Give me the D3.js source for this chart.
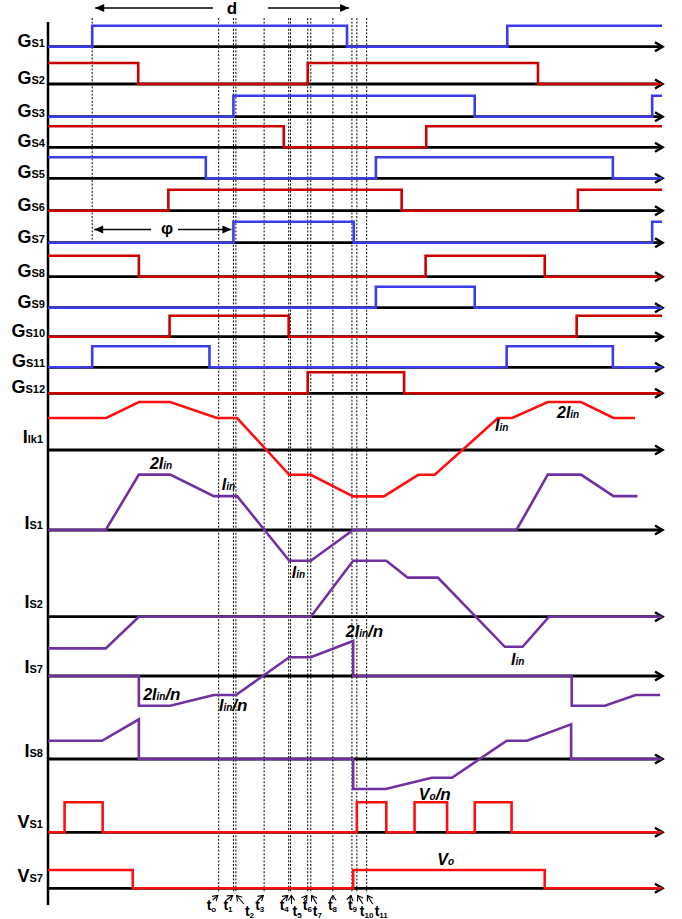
<!DOCTYPE html>
<html>
<head>
<meta charset="utf-8">
<script src="https://cdn.jsdelivr.net/npm/d3@7"></script>
<style>
body{margin:0;background:#fff}
svg{display:block;font-family:"Liberation Sans",Arial,sans-serif;font-weight:bold}
</style>
</head>
<body>
<div id="chart"></div>
<script>
// time runs 0..100 across the drawn interval, gate level 0/1, currents in schematic units
var gateNames = ["S1","S2","S3","S4","S5","S6","S7","S8","S9","S10","S11","S12"]
var gateStart = [0,1,0,1,1,0,0,1,0,0,0,0]
var gateEdges = [
    [7.2, 48.7, 74.8],
    [14.7, 42.3, 79.8],
    [30.2, 69.5, 98.4],
    [38.4, 61.6],
    [25.7, 53.4, 92.0],
    [19.6, 57.6, 86.3],
    [30.2, 49.8, 98.4],
    [14.8, 61.5, 80.9],
    [53.4, 69.5],
    [19.8, 39.2, 86.1],
    [7.2, 26.3, 74.7, 92.0],
    [42.3, 58.0]
]

var waveNames = [["I","lk1"],["I","S1"],["I","S2"],["I","S7"],["I","S8"],["V","S1"],["V","S7"]]
var iLk1 = [[0,2],[9.5,2],[14.8,3],[19.9,3],[27.5,2],[30.8,2],[39.3,-1.55],[42.8,-1.55],[49.7,-2.9],[54.7,-2.9],[60.3,-1.55],[63.0,-1.55],[73.3,2],[75.6,2],[81.4,3],[86.8,3],[92.1,2],[95.6,2]]
var iS1 = [[0,0],[9.4,0],[14.8,3.46],[19.9,3.46],[27.0,2.12],[30.8,2.12],[39.3,-1.92],[42.8,-1.92],[49.7,0],[76.3,0],[81.4,3.46],[86.8,3.46],[92.1,2.12],[96.0,2.12]]
var iS2 = [[0,-1.98],[9.4,-1.98],[14.8,0],[42.8,0],[49.7,3.5],[55.1,3.5],[58.6,2.44],[63.5,2.44],[74.4,-1.88],[77.3,-1.88],[81.6,0],[100,0]]
var iS7 = [[0,0],[14.8,0],[14.8,-1.86],[19.9,-1.86],[27.0,-1.19],[30.6,-1.19],[39.3,1.17],[42.8,1.17],[49.7,2.19],[49.7,0],[85.3,0],[85.3,-1.86],[90.7,-1.86],[95.7,-1.19],[99.7,-1.19]]
var iS8 = [[0,1.14],[8.8,1.14],[14.8,2.48],[14.8,0],[49.7,0],[49.7,-1.875],[55.0,-1.875],[62.5,-1.17],[65.8,-1.17],[74.7,1.14],[78.0,1.14],[85.2,2.17],[85.2,0],[100,0]]
var vS1Pulses = [[2.7,8.9],[50.3,55.1],[59.7,65.0],[69.5,75.5]]
var vS1Level = 1.875
var vS7Start = 1
var vS7Edges = [13.8, 49.7, 80.9]
var vS7Level = 1.14

var tNames = ["o","1","2","3","4","5","6","7","8","9","10","11"]
var tTimes = [27.8, 30.2, 30.6, 35.2, 39.2, 39.5, 42.3, 42.8, 46.4, 49.5, 50.3, 51.9]

// level labels: wave row, time, level, main text, subscript, tail
var notes = [
    [0, 72.8, 1.19, "I", "in", ""],
    [0, 82.9, 2.0, "2I", "in", ""],
    [1, 16.6, 3.81, "2I", "in", ""],
    [1, 28.3, 2.5, "I", "in", ""],
    [1, 39.7, -3.0, "I", "in", ""],
    [2, 75.4, -3.02, "I", "in", ""],
    [3, 15.5, -1.5, "2I", "in", "/n"],
    [3, 27.85, -2.19, "I", "in", "/n"],
    [3, 48.5, 2.44, "2I", "in", "/n"],
    [5, 60.4, 2.02, "V", "o", "/n"],
    [6, 63.4, 1.46, "V", "o", ""]
]

var width = 682, height = 919
var gateY = [46.7, 84, 116.7, 147.3, 178.3, 210.7, 242.7, 276.7, 307.7, 336.7, 367.3, 393.3]
var waveY = [450, 530, 616.7, 676, 759, 832.3, 888.3]
var waveLabelDy = [-7, -1, -9, -3, -2, -4, -6]
var tLabelDx = [-12, -10, 9, -9, -9, 2, -5, 2, -5, -4, 3, 8]
var tArrowDx = [-6, -7, 8, -6, -6, 1, -4, 6, 0, -2, 6, 6]
var tLow = [0, 0, 1, 0, 0, 1, 0, 1, 0, 0, 1, 1]

var blue = "#3b3bef", darkRed = "#cc0000", red = "#ff1010", purple = "#7030a0"

var x = d3.scaleLinear().domain([0,100]).range([48,662])
var gateAmp = d3.scaleLinear().domain([0,1]).range([0,-21])
var amp = d3.scaleLinear().domain([0,1]).range([0,-16])

var svg = d3.select("#chart").append("svg").attr("width", width).attr("height", height)

var defs = svg.append("defs")
defs.append("marker").attr("id","solidhead").attr("viewBox","-10 -5 10 10")
    .attr("markerUnits","userSpaceOnUse").attr("markerWidth",10).attr("markerHeight",10)
    .attr("orient","auto").append("path").attr("d","M-9,-4L0,0L-9,4Z").attr("fill","#000")
defs.append("marker").attr("id","openhead").attr("viewBox","-7 -5 8 10")
    .attr("markerUnits","userSpaceOnUse").attr("markerWidth",8).attr("markerHeight",10)
    .attr("orient","auto").append("path").attr("d","M-5,-3.2L0,0L-5,3.2")
    .attr("fill","none").attr("stroke","#000").attr("stroke-width",1.1)

function stepPoints(start, edges, hi){
    var pts = [[0, start*hi]], cur = start
    edges.forEach(function(e){
        pts.push([e, cur*hi]); cur = 1-cur; pts.push([e, cur*hi])
    })
    pts.push([100, cur*hi])
    return pts
}

// dashed time marks
svg.append("line").attr("x1", x(7.2)).attr("x2", x(7.2)).attr("y1", 18).attr("y2", gateY[6])
    .attr("stroke","#000").attr("stroke-width",1).attr("stroke-dasharray","2,1.6")
svg.selectAll(".tline").data(tTimes).enter().append("line").attr("class","tline")
    .attr("x1", function(d){ return x(d) }).attr("x2", function(d){ return x(d) })
    .attr("y1", 18).attr("y2", 893)
    .attr("stroke","#000").attr("stroke-width",1).attr("stroke-dasharray","2,1.6")

// vertical axis
svg.append("line").attr("x1",48).attr("x2",48).attr("y1",22).attr("y2",905)
    .attr("stroke","#000").attr("stroke-width",2.5)

// horizontal axes with chevrons
var allY = gateY.concat(waveY)
var axes = svg.selectAll(".hax").data(allY).enter().append("g").attr("class","hax")
axes.append("line").attr("x1",48).attr("x2",x(100)).attr("y1",function(d){return d}).attr("y2",function(d){return d})
    .attr("stroke","#000").attr("stroke-width",2.8)
axes.append("path").attr("d",function(d){ return "M"+(x(100)-7)+","+(d-4.5)+"L"+(x(100)+0.5)+","+d+"L"+(x(100)-7)+","+(d+4.5) })
    .attr("fill","none").attr("stroke","#000").attr("stroke-width",2.5)

var line = d3.line().x(function(d){ return x(d[0]) })

// gate signals
gateNames.forEach(function(n, i){
    var pts = stepPoints(gateStart[i], gateEdges[i], 1)
    svg.append("path").datum(pts)
        .attr("d", line.y(function(d){ return gateY[i] + gateAmp(d[1]) }))
        .attr("fill","none").attr("stroke", i % 2 == 0 ? blue : darkRed)
        .attr("stroke-width",2.6).attr("stroke-linejoin","miter")
    var t = svg.append("text").attr("x",45).attr("y",gateY[i]).attr("text-anchor","end")
    t.append("tspan").attr("font-size",18).text("G")
    t.append("tspan").attr("font-size",11).text(n)
})

// current and voltage waveforms
var waves = [iLk1, iS1, iS2, iS7, iS8]
waves.forEach(function(w, i){
    svg.append("path").datum(w)
        .attr("d", line.y(function(d){ return waveY[i] + amp(d[1]) }))
        .attr("fill","none").attr("stroke", i == 0 ? red : purple)
        .attr("stroke-width",2.6).attr("stroke-linejoin","miter")
})

var vs1Pts = [[0,0]]
vS1Pulses.forEach(function(p){
    vs1Pts.push([p[0],0],[p[0],vS1Level],[p[1],vS1Level],[p[1],0])
})
vs1Pts.push([100,0])
svg.append("path").datum(vs1Pts)
    .attr("d", line.y(function(d){ return waveY[5] + amp(d[1]) }))
    .attr("fill","none").attr("stroke", red).attr("stroke-width",2.6)
svg.append("path").datum(stepPoints(vS7Start, vS7Edges, vS7Level))
    .attr("d", line.y(function(d){ return waveY[6] + amp(d[1]) }))
    .attr("fill","none").attr("stroke", red).attr("stroke-width",2.6)

waveNames.forEach(function(n, i){
    var t = svg.append("text").attr("x",43).attr("y",waveY[i] + waveLabelDy[i]).attr("text-anchor","end")
    t.append("tspan").attr("font-size",18).text(n[0])
    t.append("tspan").attr("font-size",11).text(n[1])
})

// level notes
notes.forEach(function(d){
    var t = svg.append("text").attr("x", x(d[1])).attr("y", waveY[d[0]] + amp(d[2]))
        .attr("font-style","italic")
    t.append("tspan").attr("font-size",16).text(d[3])
    t.append("tspan").attr("font-size",10).text(d[4])
    if(d[5]) t.append("tspan").attr("font-size",17).text(d[5])
})

// d and phi spans
var dL = x(7.2) + 3, dR = x(48.7) + 2, dMid = 232
svg.append("line").attr("x1",dMid-19).attr("x2",dL).attr("y1",8).attr("y2",8)
    .attr("stroke","#000").attr("stroke-width",1.6).attr("marker-end","url(#solidhead)")
svg.append("line").attr("x1",dMid+36).attr("x2",dR).attr("y1",8).attr("y2",8)
    .attr("stroke","#000").attr("stroke-width",1.6).attr("marker-end","url(#solidhead)")
svg.append("text").attr("x",dMid).attr("y",14).attr("text-anchor","middle").attr("font-size",17).text("d")

var pL = x(7.2) + 2, pR = x(30.2) - 2, pMid = 167
svg.append("line").attr("x1",pMid-16).attr("x2",pL).attr("y1",229.5).attr("y2",229.5)
    .attr("stroke","#000").attr("stroke-width",1.6).attr("marker-end","url(#solidhead)")
svg.append("line").attr("x1",pMid+11).attr("x2",pR).attr("y1",229.5).attr("y2",229.5)
    .attr("stroke","#000").attr("stroke-width",1.6).attr("marker-end","url(#solidhead)")
svg.append("text").attr("x",pMid).attr("y",234).attr("text-anchor","middle").attr("font-size",17).text("φ")

// time instant labels
tTimes.forEach(function(tt, i){
    var lx = x(tt)
    var by = tLow[i] ? 916 : 910
    svg.append("line").attr("x1", lx + tArrowDx[i]).attr("y1", by - 10 + (tLow[i] ? -2 : 0))
        .attr("x2", lx + (tArrowDx[i] > 0 ? 0.8 : tArrowDx[i] < 0 ? -0.8 : 0)).attr("y2", 895.5)
        .attr("stroke","#000").attr("stroke-width",1.1).attr("marker-end","url(#openhead)")
    var t = svg.append("text").attr("x", lx + tLabelDx[i]).attr("y", by)
    t.append("tspan").attr("font-size",14).text("t")
    t.append("tspan").attr("font-size",8).attr("dy",2).text(tNames[i])
})
</script>
</body>
</html>
